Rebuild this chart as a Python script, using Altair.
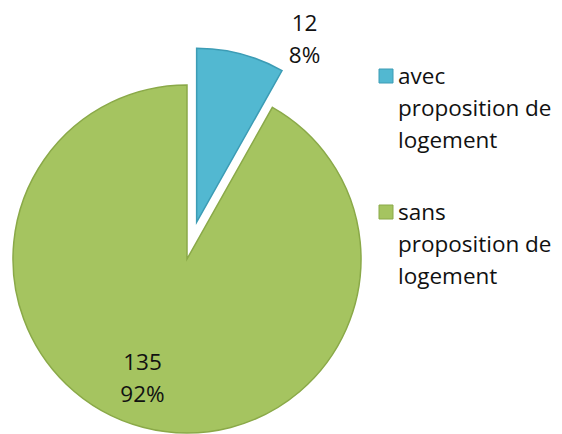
import math
import altair as alt
import pandas as pd

# ---- data ----
categories = ["avec proposition de logement", "sans proposition de logement"]
values = [12, 135]
legend_lines = [["avec", "proposition de", "logement"],
                ["sans", "proposition de", "logement"]]
colors = ["#52B8D1", "#A5C460"]
edge_colors = ["#3C9CB5", "#8AA948"]

# ---- layout (chart coordinates) ----
CX, CY, R = 179, 251, 174
EXPLODE = [38, 0]
LABEL_R = [212, 128]
LABEL_SHIFT = [0.5, 2.3]  # in value units along the theta scale
FONT = "Open Sans"
FS = 22.5

total = sum(values)
rows = []
start = 0
for i, (c, v) in enumerate(zip(categories, values)):
    end = start + v
    mid = (start + end) / 2
    ang = mid / total * 2 * math.pi
    cx = CX + EXPLODE[i] * math.sin(ang)
    cy = CY - EXPLODE[i] * math.cos(ang)
    lab_t = (end if i == 0 else mid) + LABEL_SHIFT[i]
    rows.append(dict(cat=c, value=v, start=start, end=end, cx=cx, cy=cy,
                     lab_t=lab_t, lab_r=LABEL_R[i],
                     label=[str(v), f"{round(100 * v / total)}%"]))
    start = end
df = pd.DataFrame(rows)

leg = pd.DataFrame({
    "cat": categories,
    "lines": legend_lines,
    "sy": [68 + i * 136 for i in range(len(categories))],
    "ty": [76 + i * 136 for i in range(len(categories))],
})

color = alt.Color("cat:N", scale=alt.Scale(domain=categories, range=colors), legend=None)
stroke = alt.Stroke("cat:N", scale=alt.Scale(domain=categories, range=edge_colors), legend=None)
theta_scale = alt.Scale(domain=[0, total], range=[0, 2 * math.pi])

arcs = alt.Chart(df).mark_arc(outerRadius=R, innerRadius=0, strokeWidth=1.5).encode(
    theta=alt.Theta("start:Q", scale=theta_scale),
    theta2="end:Q",
    x=alt.X("cx:Q", scale=None),
    y=alt.Y("cy:Q", scale=None),
    color=color,
    stroke=stroke,
)

labels = alt.Chart(df).mark_text(font=FONT, fontSize=FS, lineHeight=32, dy=-16,
                                 align="center", baseline="middle", color="#111").encode(
    theta=alt.Theta("lab_t:Q", scale=theta_scale),
    radius=alt.Radius("lab_r:Q", scale=None),
    x=alt.X("cx:Q", scale=None),
    y=alt.Y("cy:Q", scale=None),
    text="label",
)

leg_sq = alt.Chart(leg).mark_point(shape="square", size=196, filled=True,
                                   opacity=1, strokeWidth=1).encode(
    x=alt.value(378),
    y=alt.Y("sy:Q", scale=None),
    fill=alt.Fill("cat:N", scale=alt.Scale(domain=categories, range=colors), legend=None),
    stroke=stroke,
)

leg_txt = alt.Chart(leg).mark_text(font=FONT, fontSize=FS, lineHeight=32,
                                   align="left", baseline="alphabetic", color="#111").encode(
    x=alt.value(390),
    y=alt.Y("ty:Q", scale=None),
    text="lines",
)

chart = alt.layer(arcs, labels, leg_sq, leg_txt).properties(
    width=546, height=426,
    autosize=alt.AutoSizeParams(type="none"),
    padding=0,
).configure_view(stroke=None)

chart.save("out.html", embed_options={"renderer": "svg", "actions": False})
